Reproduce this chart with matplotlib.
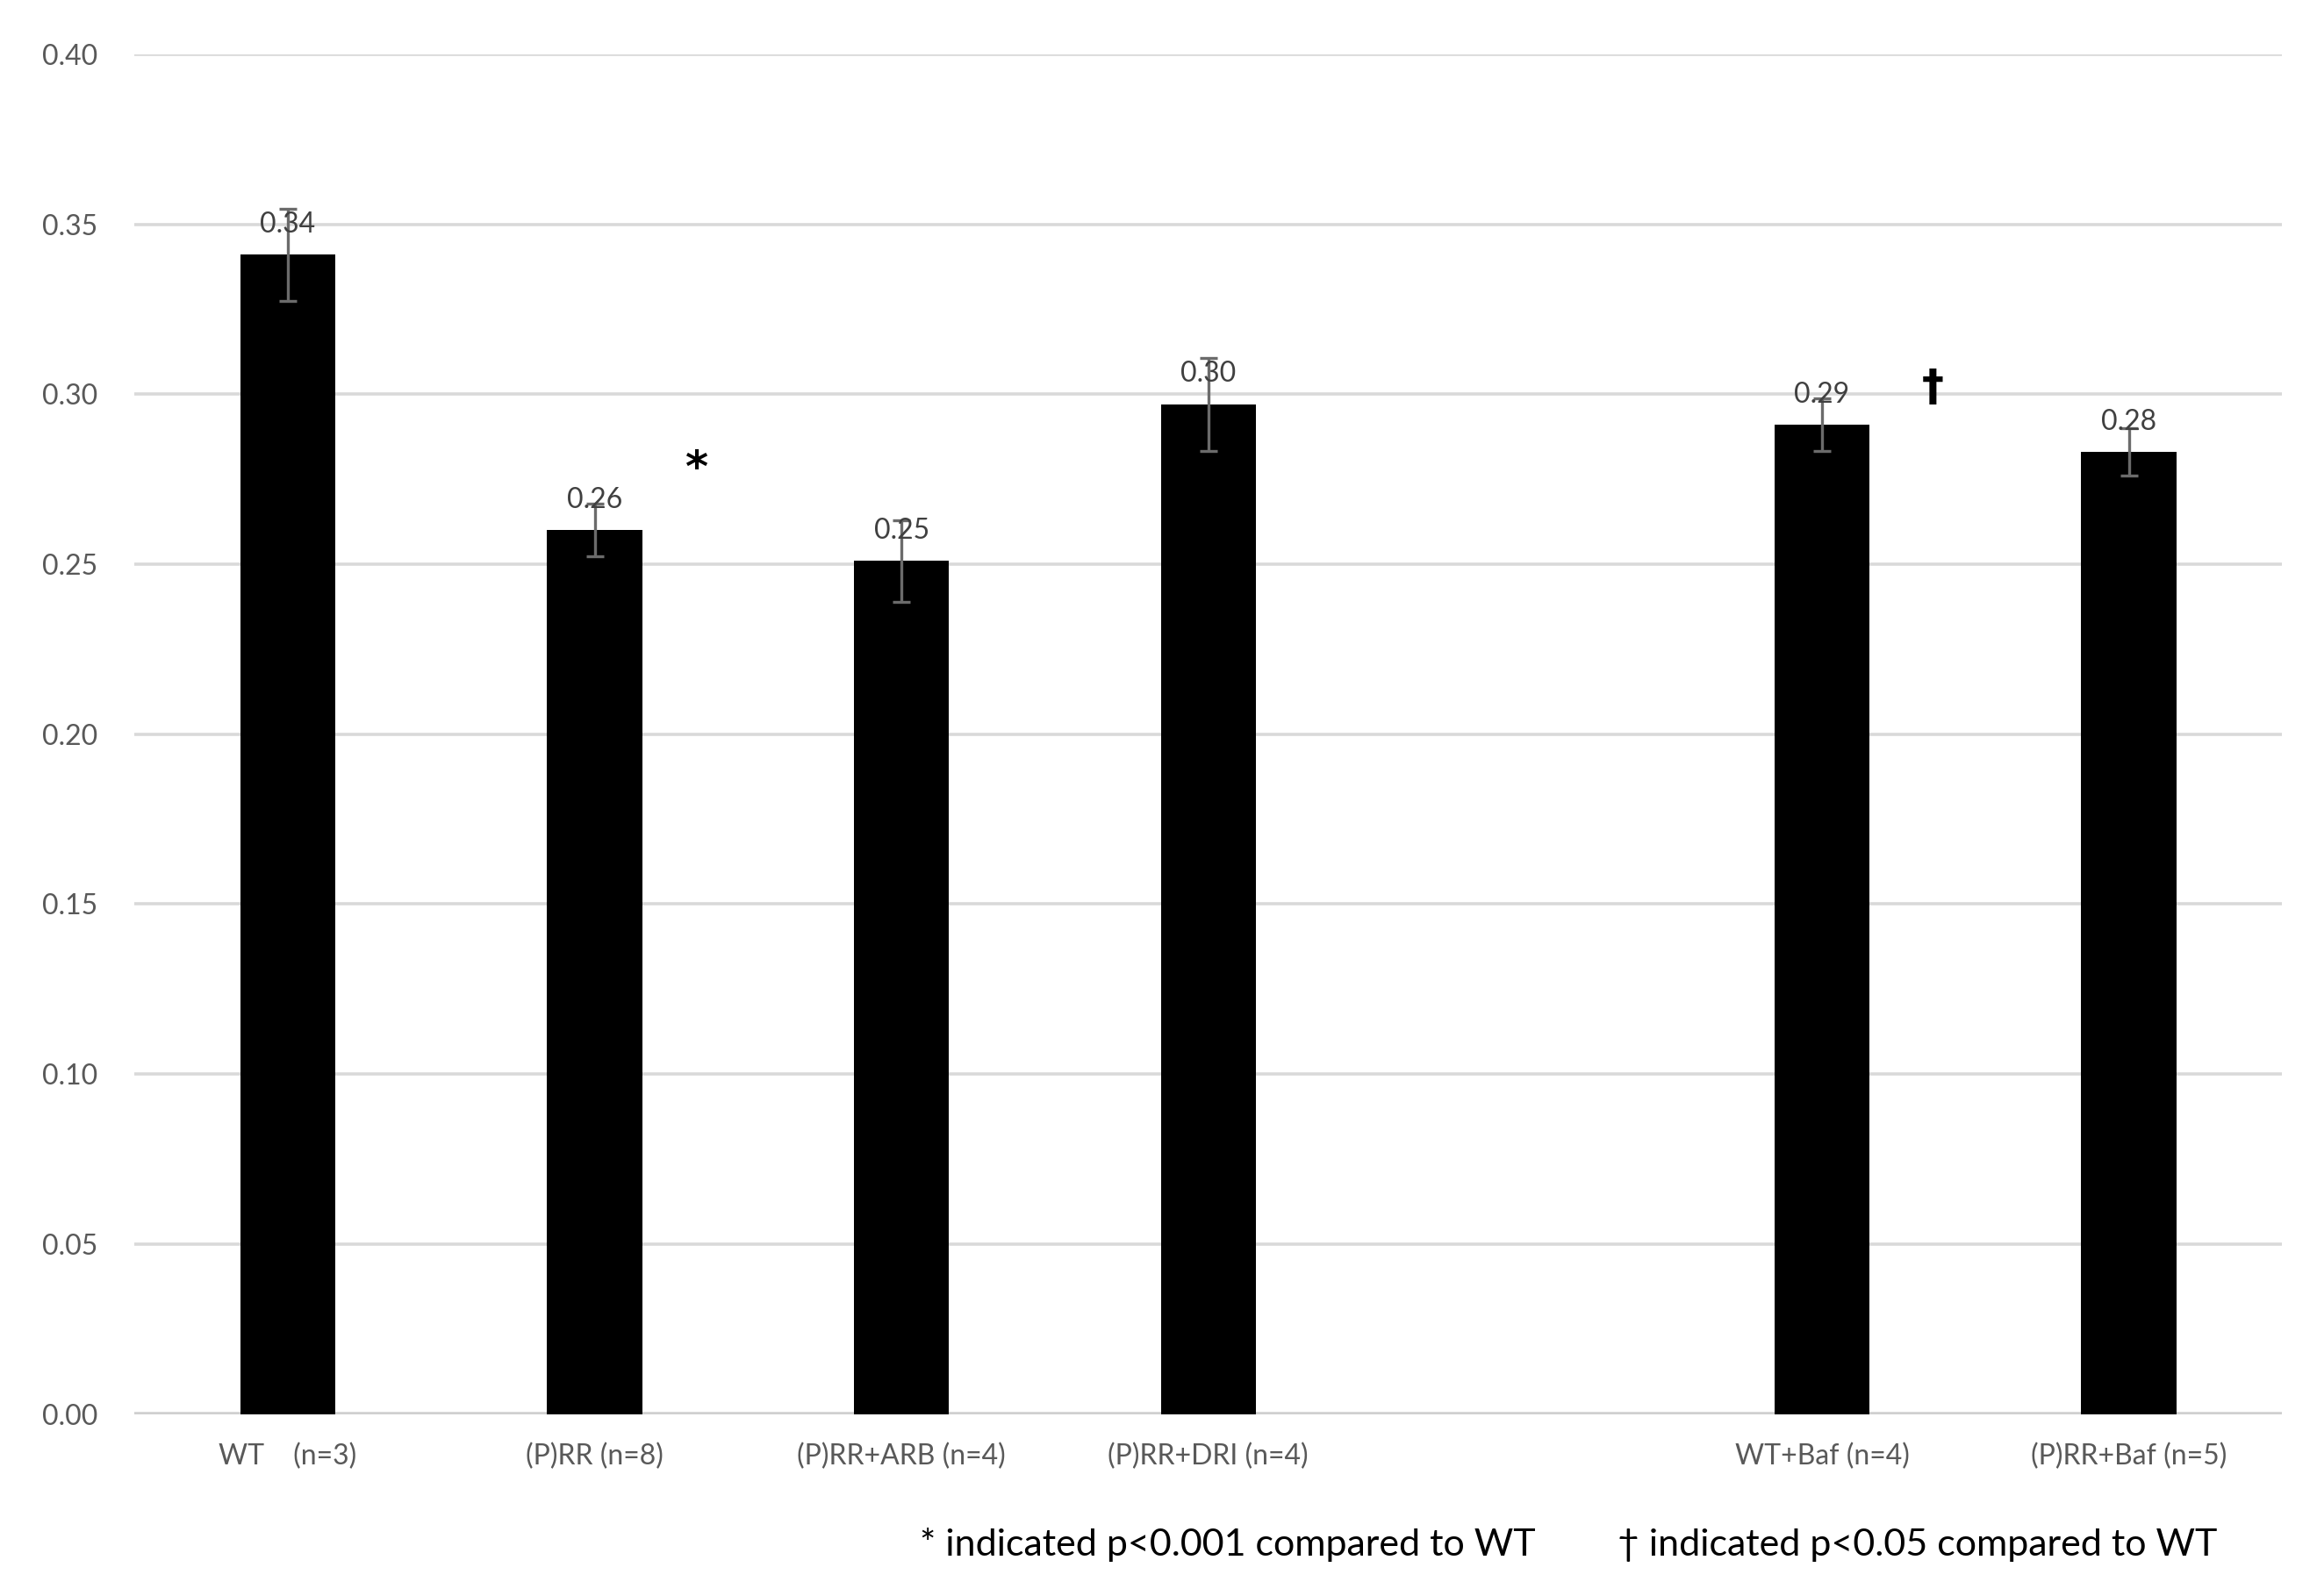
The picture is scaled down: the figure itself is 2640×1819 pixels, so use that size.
import numpy as np
import matplotlib
matplotlib.use("Agg")
import matplotlib.pyplot as plt

# data
groups = ["WT    (n=3)", "(P)RR (n=8)", "(P)RR+ARB (n=4)", "(P)RR+DRI (n=4)", "",
          "WT+Baf (n=4)", "(P)RR+Baf (n=5)"]
means = [0.341, 0.260, 0.251, 0.297, np.nan, 0.291, 0.283]
errors = [0.0135, 0.0078, 0.012, 0.0137, np.nan, 0.0078, 0.007]
value_labels = ["0.34", "0.26", "0.25", "0.30", "", "0.29", "0.28"]
y_ticks = [0.00, 0.05, 0.10, 0.15, 0.20, 0.25, 0.30, 0.35, 0.40]
marks = [("*", 1.33, 0.278), ("\u2020", 5.36, 0.302)]
notes = ["* indicated p<0.001 compared to WT", "\u2020 indicated p<0.05 compared to WT"]

plt.rcParams['font.family'] = ['Lato', 'DejaVu Sans']

fig = plt.figure(figsize=(13.2, 9.095), dpi=200)
ax = fig.add_axes([0.058, 0.114, 0.927, 0.852])

x = np.arange(len(groups))
ax.bar(x, means, width=0.31, color='black', zorder=3)
ax.errorbar(x, means, yerr=errors, fmt='none', ecolor='#6b6b6b', elinewidth=1.2,
            capsize=3.5, capthick=1.2, zorder=4)

for xi, m, lab in zip(x, means, value_labels):
    if lab:
        ax.annotate(lab, (xi, m), xytext=(0, 7), textcoords='offset points',
                    ha='center', va='bottom', fontsize=11.5, color='#404040', zorder=5)

for sym, mx, my in marks:
    ax.text(mx, my, sym, ha='center', va='center', fontsize=18, fontweight='bold',
            color='black', family=['DejaVu Sans'])

ax.set_xlim(-0.5, 6.5)
ax.set_ylim(0, 0.40)
ax.set_yticks(y_ticks)
ax.set_yticklabels([f"{t:.2f}" for t in y_ticks])
ax.set_xticks(x)
ax.set_xticklabels(groups)
ax.tick_params(axis='both', length=0, labelsize=11.5, labelcolor='#595959')
ax.tick_params(axis='x', pad=12)
ax.tick_params(axis='y', pad=38)
for lab in ax.get_yticklabels():
    lab.set_horizontalalignment('left')

ax.yaxis.grid(True, color='#d9d9d9', linewidth=1.3, zorder=0)
ax.set_axisbelow(True)
for s in ax.spines.values():
    s.set_visible(False)
ax.axhline(0, color='#d0d0d0', linewidth=2, zorder=2)

fig.text(0.397, 0.032, notes[0], fontsize=15.5, color='black', va='center')
fig.text(0.698, 0.032, notes[1], fontsize=15.5, color='black', va='center')

fig.savefig("out.png", dpi=200, facecolor='white')
